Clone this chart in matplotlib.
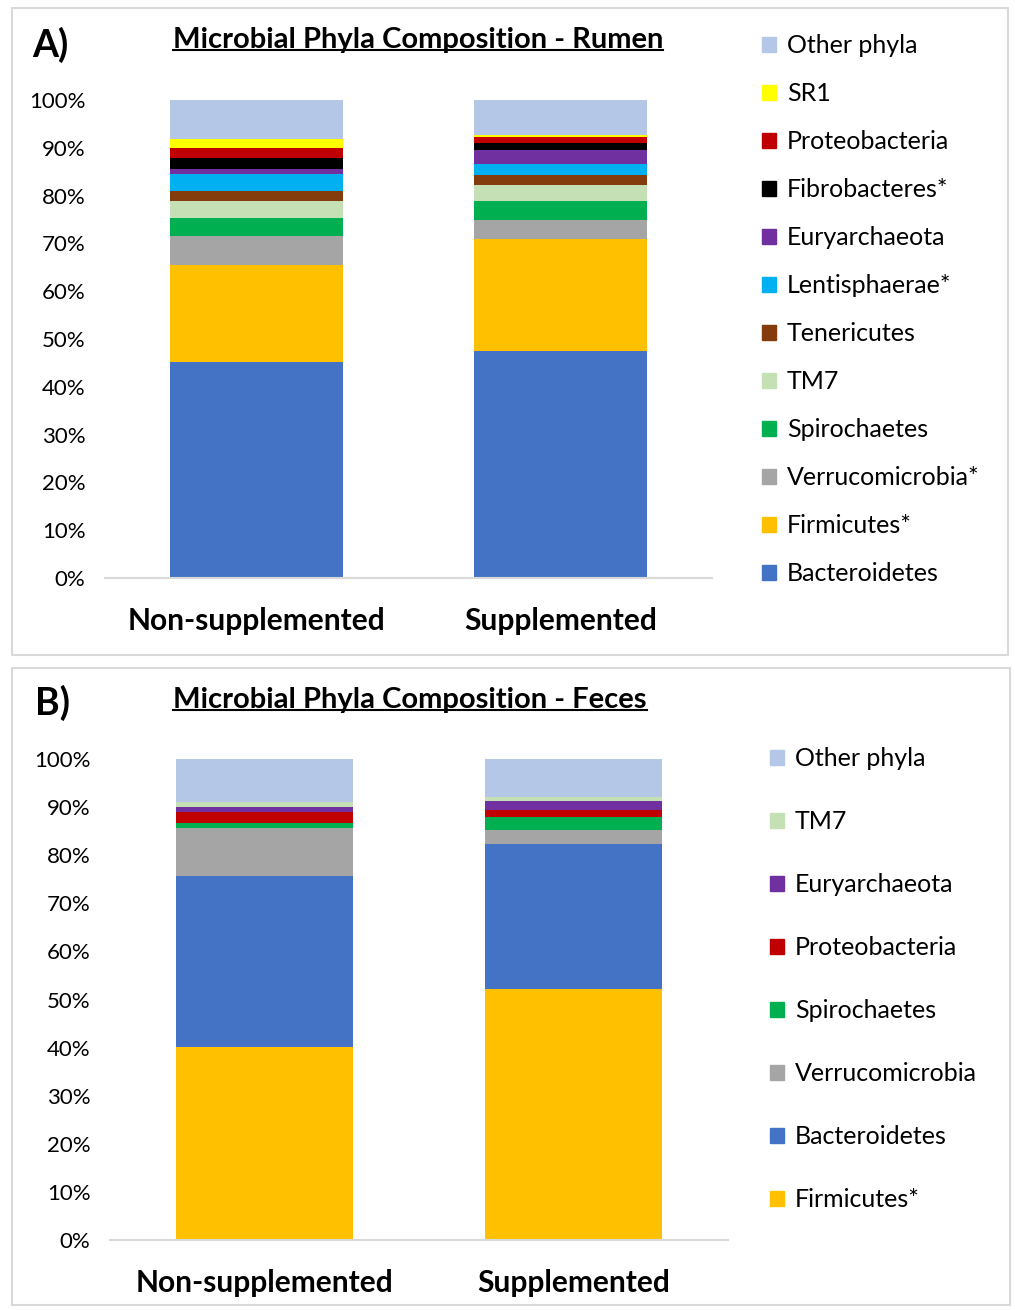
import matplotlib.pyplot as plt
import numpy as np
from matplotlib.patches import Patch, Rectangle
from matplotlib.lines import Line2D
from matplotlib.ticker import PercentFormatter

plt.rcParams["font.family"] = ["Lato", "DejaVu Sans"]

groups = ["Non-supplemented", "Supplemented"]

# Rumen, stacked bottom -> top (%)
rumen_phyla = ["Bacteroidetes", "Firmicutes*", "Verrucomicrobia*", "Spirochaetes", "TM7",
               "Tenericutes", "Lentisphaerae*", "Euryarchaeota", "Fibrobacteres*",
               "Proteobacteria", "SR1", "Other phyla"]
rumen_non = [45.2, 20.3, 6.1, 3.8, 3.5, 2.1, 3.5, 1.1, 2.2, 2.2, 1.8, 8.2]
rumen_sup = [47.5, 23.5, 4.0, 3.8, 3.4, 2.1, 2.4, 2.8, 1.4, 1.4, 0.4, 7.3]

# Feces, stacked bottom -> top (%)
feces_phyla = ["Firmicutes*", "Bacteroidetes", "Verrucomicrobia", "Spirochaetes",
               "Proteobacteria", "Euryarchaeota", "TM7", "Other phyla"]
feces_non = [40.1, 35.6, 10.0, 1.0, 2.2, 1.1, 1.1, 8.9]
feces_sup = [52.2, 30.1, 2.9, 2.7, 1.6, 1.8, 0.9, 7.8]

COLORS = {
    "Bacteroidetes": "#4472C4",
    "Firmicutes": "#FFC000",
    "Verrucomicrobia": "#A5A5A5",
    "Spirochaetes": "#00B050",
    "TM7": "#C5E0B4",
    "Tenericutes": "#843C0C",
    "Lentisphaerae": "#00B0F0",
    "Euryarchaeota": "#7030A0",
    "Fibrobacteres": "#000000",
    "Proteobacteria": "#C00000",
    "SR1": "#FFFF00",
    "Other phyla": "#B4C7E7",
}

W, H = 1015, 1310


def color_of(name):
    return COLORS[name.rstrip("*")]


def draw_panel(fig, rect_px, box_px, phyla, non, sup, letter, title, title_xy,
               letter_xy, leg_xy, leg_spacing):
    l, t, r, b = rect_px
    ax = fig.add_axes([l / W, 1 - b / H, (r - l) / W, (b - t) / H])
    x = np.arange(len(groups))
    bottom = np.zeros(len(groups))
    for name, a, s in zip(phyla, non, sup):
        vals = np.array([a, s])
        ax.bar(x, vals, 0.57, bottom=bottom, color=color_of(name), label=name)
        bottom += vals

    ax.set_xlim(-0.5, 1.5)
    ax.set_ylim(0, 100)
    ax.set_yticks(np.arange(0, 101, 10))
    ax.yaxis.set_major_formatter(PercentFormatter(decimals=0))
    ax.set_xticks(x)
    ax.set_xticklabels(groups, fontsize=21.5, fontweight="bold")
    ax.tick_params(axis="y", length=0, pad=14, labelsize=16)
    ax.tick_params(axis="x", length=0, pad=21)
    for side in ["top", "right", "left"]:
        ax.spines[side].set_visible(False)
    ax.spines["bottom"].set_color("#d9d9d9")
    ax.spines["bottom"].set_linewidth(1.5)

    handles = [Patch(color=color_of(n)) for n in phyla][::-1]
    fig.legend(handles, phyla[::-1], loc="upper left",
               bbox_to_anchor=(leg_xy[0] / W, 1 - leg_xy[1] / H), frameon=False,
               fontsize=18, handlelength=0.55, handleheight=0.55, handletextpad=0.45,
               labelspacing=leg_spacing, borderpad=0, borderaxespad=0)

    bl, bt, br, bb = box_px
    fig.patches.append(Rectangle((bl / W, 1 - bb / H), (br - bl) / W, (bb - bt) / H,
                                 transform=fig.transFigure, fill=False,
                                 edgecolor="#d9d9d9", linewidth=1.5))
    fig.text(letter_xy[0] / W, 1 - letter_xy[1] / H, letter, fontsize=27,
             fontweight="bold", va="center", ha="left")
    tt = fig.text(title_xy[0] / W, 1 - title_xy[1] / H, title, fontsize=21,
                  fontweight="bold", va="center", ha="center")
    return tt


fig = plt.figure(figsize=(W / 100, H / 100), dpi=100)
titles = []
titles.append(draw_panel(fig, (105, 100, 712, 578), (12, 8, 1008, 655),
                         rumen_phyla, rumen_non, rumen_sup, "A)",
                         "Microbial Phyla Composition - Rumen", (418, 40), (32, 45),
                         (762, 34), 1.0))
titles.append(draw_panel(fig, (110, 759, 728, 1240), (12, 668, 1010, 1305),
                         feces_phyla, feces_non, feces_sup, "B)",
                         "Microbial Phyla Composition - Feces", (410, 700), (35, 703),
                         (770, 747), 1.6))

# underline the titles
fig.canvas.draw()
inv = fig.transFigure.inverted()
for tt in titles:
    bb = tt.get_window_extent()
    (x0, y0), (x1, _) = inv.transform([(bb.x0, bb.y0), (bb.x1, bb.y1)])
    fig.add_artist(Line2D([x0, x1], [y0 + 0.002, y0 + 0.002], color="black",
                          linewidth=1.5, transform=fig.transFigure))

fig.savefig("out.png", dpi=100)
